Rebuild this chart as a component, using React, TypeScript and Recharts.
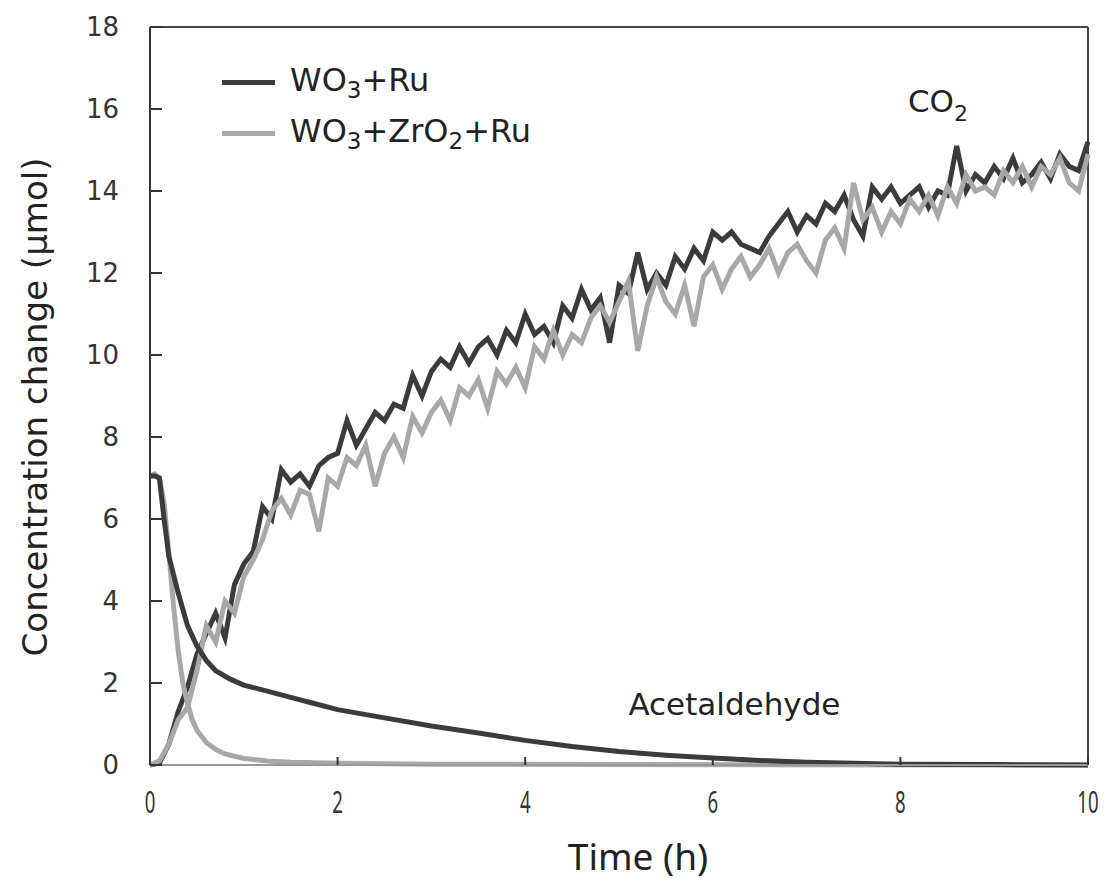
import { LineChart, Line, XAxis, YAxis, ReferenceLine, ReferenceDot } from "recharts";

// CO2 series, sampled every 0.1 h
const TIME_CO2 = [
  0, 0.1, 0.2, 0.3, 0.4, 0.5, 0.6, 0.7, 0.8, 0.9, 1, 1.1, 1.2, 1.3, 1.4, 1.5, 1.6, 1.7, 1.8, 1.9,
  2, 2.1, 2.2, 2.3, 2.4, 2.5, 2.6, 2.7, 2.8, 2.9, 3, 3.1, 3.2, 3.3, 3.4, 3.5, 3.6, 3.7, 3.8, 3.9,
  4, 4.1, 4.2, 4.3, 4.4, 4.5, 4.6, 4.7, 4.8, 4.9, 5, 5.1, 5.2, 5.3, 5.4, 5.5, 5.6, 5.7, 5.8, 5.9,
  6, 6.1, 6.2, 6.3, 6.4, 6.5, 6.6, 6.7, 6.8, 6.9, 7, 7.1, 7.2, 7.3, 7.4, 7.5, 7.6, 7.7, 7.8, 7.9,
  8, 8.1, 8.2, 8.3, 8.4, 8.5, 8.6, 8.7, 8.8, 8.9, 9, 9.1, 9.2, 9.3, 9.4, 9.5, 9.6, 9.7, 9.8, 9.9, 10,
];

const CO2_RU = [
  0, 0.05, 0.5, 1.3, 1.9, 2.7, 3.2, 3.7, 3.1, 4.4, 4.9, 5.2, 6.3, 6.0, 7.2, 6.9, 7.1, 6.8, 7.3, 7.5,
  7.6, 8.4, 7.8, 8.2, 8.6, 8.4, 8.8, 8.7, 9.5, 9.0, 9.6, 9.9, 9.7, 10.2, 9.8, 10.2, 10.4, 10.0, 10.6, 10.3,
  11.0, 10.5, 10.7, 10.3, 11.2, 10.9, 11.6, 11.1, 11.4, 10.3, 11.7, 11.5, 12.5, 11.6, 12.0, 11.7, 12.4, 12.1, 12.6, 12.3,
  13.0, 12.8, 13.0, 12.7, 12.6, 12.5, 12.9, 13.2, 13.5, 13.0, 13.4, 13.2, 13.7, 13.5, 13.9, 13.3, 12.9, 14.1, 13.8, 14.1,
  13.7, 13.9, 14.1, 13.6, 14.0, 13.9, 15.1, 14.0, 14.4, 14.2, 14.6, 14.3, 14.8, 14.2, 14.4, 14.7, 14.3, 14.9, 14.6, 14.5, 15.2,
];

const CO2_ZR_RU = [
  0, 0.1, 0.5, 1.1, 1.4, 2.3, 3.4, 3.0, 4.0, 3.7, 4.6, 5.0, 5.5, 6.2, 6.5, 6.1, 6.7, 6.6, 5.7, 7.0,
  6.8, 7.5, 7.3, 7.8, 6.8, 7.6, 8.0, 7.5, 8.5, 8.1, 8.6, 8.9, 8.4, 9.2, 9.0, 9.4, 8.7, 9.6, 9.3, 9.7,
  9.2, 10.2, 9.9, 10.6, 10.0, 10.5, 10.3, 10.9, 11.2, 10.8, 11.3, 11.8, 10.1, 11.2, 11.9, 11.3, 11.0, 11.7, 10.7, 11.9,
  12.2, 11.6, 12.1, 12.4, 11.9, 12.2, 12.6, 12.0, 12.5, 12.7, 12.3, 12.0, 12.8, 13.1, 12.6, 14.2, 13.3, 13.6, 13.0, 13.5,
  13.2, 13.8, 13.5, 13.9, 13.4, 14.1, 13.7, 14.4, 14.0, 14.1, 13.9, 14.5, 14.2, 14.6, 14.1, 14.6, 14.4, 14.8, 14.2, 14.0, 14.9,
];

// acetaldehyde series
const TIME_ACET_RU = [
  0, 0.05, 0.1, 0.15, 0.2, 0.3, 0.4, 0.5, 0.6, 0.7, 0.85, 1, 1.25, 1.5, 1.75,
  2, 2.5, 3, 3.5, 4, 4.5, 5, 5.5, 6, 6.5, 7, 7.5, 8, 9, 10,
];
const ACET_RU = [
  7.05, 7.05, 7.0, 6.0, 5.1, 4.2, 3.4, 2.9, 2.55, 2.3, 2.1, 1.95, 1.8, 1.65, 1.5,
  1.35, 1.15, 0.95, 0.78, 0.6, 0.45, 0.33, 0.24, 0.17, 0.11, 0.07, 0.04, 0.02, 0.01, 0,
];

const TIME_ACET_ZR_RU = [
  0, 0.05, 0.1, 0.15, 0.2, 0.25, 0.3, 0.35, 0.4, 0.45, 0.5, 0.6, 0.7, 0.8, 1, 1.25, 1.5, 2, 3, 5, 10,
];
const ACET_ZR_RU = [
  7.05, 7.1, 7.0, 6.4, 5.2, 3.9, 2.8, 2.0, 1.5, 1.1, 0.85, 0.55, 0.38, 0.27, 0.16, 0.1, 0.07, 0.04, 0.02, 0.01, 0,
];

const X_TICKS = [0, 2, 4, 6, 8, 10];
const Y_TICKS = [0, 2, 4, 6, 8, 10, 12, 14, 16, 18];

const DARK = "#3b3b3b";
const LIGHT = "#a8a8a8";
const AXIS = "#333";
const TEXT = "#222";
const WIDE = "'DejaVu Sans', sans-serif";
const NARROW = "'Noto Sans', sans-serif";

const toPoints = (ts: number[], vs: number[]) => ts.map((t, i) => ({ t, v: vs[i] }));

const co2Ru = toPoints(TIME_CO2, CO2_RU);
const co2ZrRu = toPoints(TIME_CO2, CO2_ZR_RU);
const acetRu = toPoints(TIME_ACET_RU, ACET_RU);
const acetZrRu = toPoints(TIME_ACET_ZR_RU, ACET_ZR_RU);

function XTick(props: any) {
  const { x, y, payload } = props;
  return (
    <g transform={`translate(${x},${y})`}>
      <text transform="scale(0.6,1)" textAnchor="middle" dy={23} fontSize={31} fill={AXIS} fontFamily={NARROW}>
        {payload.value}
      </text>
    </g>
  );
}

function XTitle() {
  return (
    <text x={638} y={870} textAnchor="middle" fontSize={37} fill={TEXT} fontFamily={NARROW}>
      Time (h)
    </text>
  );
}

function YTitle() {
  return (
    <text transform="translate(47,407) rotate(-90)" textAnchor="middle" fontSize={34} fill={TEXT} fontFamily={WIDE}>
      Concentration change (μmol)
    </text>
  );
}

function LegendBox() {
  const sub = { fontSize: 23, verticalAlign: "-0.3em" } as const;
  const row = (color: string, label: React.ReactNode) => (
    <div style={{ display: "flex", alignItems: "center", height: 51 }}>
      <span style={{ display: "inline-block", width: 53, height: 5, background: color, marginRight: 15 }} />
      <span>{label}</span>
    </div>
  );
  return (
    <div style={{ position: "absolute", left: 222, top: 57, fontFamily: WIDE, fontSize: 32, color: TEXT, lineHeight: 1 }}>
      {row(DARK, <>WO<span style={sub}>3</span>+Ru</>)}
      {row(LIGHT, <>WO<span style={sub}>3</span>+ZrO<span style={sub}>2</span>+Ru</>)}
    </div>
  );
}

function Note(props: any) {
  const { viewBox, text, sub } = props;
  return (
    <text x={viewBox.x} y={viewBox.y} fontSize={31} fill={TEXT} fontFamily={WIDE}>
      {text}
      {sub && (
        <tspan fontSize={22} dy={9}>
          {sub}
        </tspan>
      )}
    </text>
  );
}

export default function App() {
  return (
    <div style={{ position: "absolute", left: 0, top: 0, width: 1115, height: 888, background: "#fff" }}>
      <LineChart width={1100} height={888} margin={{ top: 27, right: 12, left: 0, bottom: 63 }}>
        <XAxis
          dataKey="t"
          type="number"
          domain={[0, 10]}
          ticks={X_TICKS}
          height={60}
          tickSize={-8}
          tickMargin={33}
          tick={<XTick />}
          axisLine={{ stroke: "#999", strokeWidth: 2 }}
          tickLine={{ stroke: AXIS, strokeWidth: 2 }}
          label={<XTitle />}
        />
        <YAxis
          type="number"
          domain={[0, 18]}
          ticks={Y_TICKS}
          width={150}
          tickSize={-12}
          tickMargin={43}
          tick={{ fontSize: 26, fill: AXIS, fontFamily: WIDE }}
          axisLine={{ stroke: AXIS, strokeWidth: 2 }}
          tickLine={{ stroke: AXIS, strokeWidth: 2 }}
          label={<YTitle />}
        />
        <ReferenceLine y={18} stroke="#444" strokeWidth={2} />
        <ReferenceLine x={10} stroke="#444" strokeWidth={2} />
        <Line data={co2Ru} dataKey="v" name="WO3+Ru" type="linear" stroke={DARK} strokeWidth={5} dot={false} isAnimationActive={false} />
        <Line data={co2ZrRu} dataKey="v" name="WO3+ZrO2+Ru" type="linear" stroke={LIGHT} strokeWidth={5} dot={false} isAnimationActive={false} />
        <Line data={acetZrRu} dataKey="v" name="acet2" type="linear" stroke={LIGHT} strokeWidth={5} dot={false} isAnimationActive={false} />
        <Line data={acetRu} dataKey="v" name="acet1" type="linear" stroke={DARK} strokeWidth={5} dot={false} isAnimationActive={false} />
        <ReferenceDot x={8.08} y={15.93} r={0} stroke="none" fill="none" label={<Note text="CO" sub="2" />} />
        <ReferenceDot x={5.1} y={1.22} r={0} stroke="none" fill="none" label={<Note text="Acetaldehyde" />} />
      </LineChart>
      <LegendBox />
    </div>
  );
}
